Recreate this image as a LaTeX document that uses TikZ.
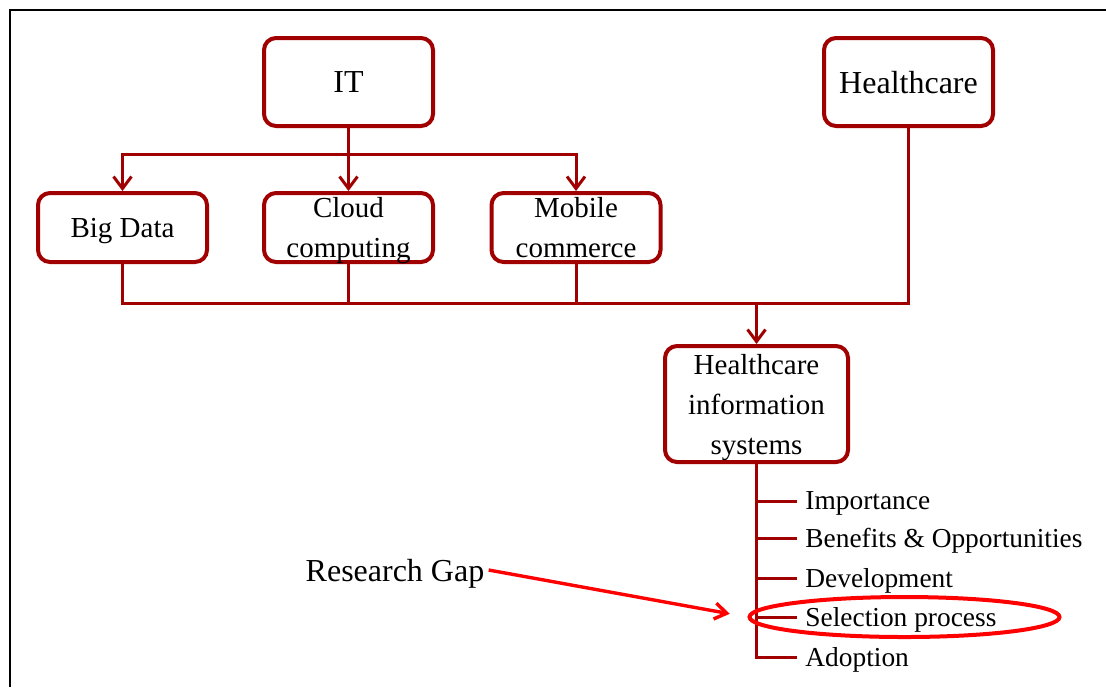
\documentclass[tikz,border=0pt]{standalone}
\usepackage{fontspec}
\setmainfont{Liberation Serif}
\usetikzlibrary{arrows.meta,shapes.geometric}
\definecolor{boxred}{RGB}{160,0,0}

\tikzset{
  box/.style={draw=boxred, line width=2pt, rounded corners=6pt, align=center,
    minimum width=84.5pt, minimum height=34.5pt, inner sep=2pt, text depth=0pt,
    font=\fontsize{14.5}{20}\selectfont},
  topbox/.style={box, minimum height=44pt, font=\fontsize{16}{19}\selectfont},
  link/.style={draw=boxred, line width=1.5pt},
  arr/.style={link, -{Straight Barb[length=6pt,width=9pt]}},
  item/.style={anchor=west, inner xsep=4pt, inner ysep=2pt, text depth=0pt,
    font=\fontsize{13.7}{16}\selectfont},
}

\begin{document}
\begin{tikzpicture}[x=0.5pt, y=-0.5pt]
  \useasboundingbox (0,0) rectangle (1106,687);
  \draw[line width=1.2pt] (10,687) -- (10,10) -- (1106,10); % frame

  \node[topbox] (it) at (348.5,82) {IT};
  \node[topbox] (health) at (908.5,82) {Healthcare};
  \node[box] (bigdata) at (122.5,227.5) {Big Data};
  \node[box] (cloud) at (348.5,227.5) {Cloud\\computing};
  \node[box] (mobile) at (576,227.5) {Mobile\\commerce};
  \node[box, minimum width=91.5pt, minimum height=58pt] (his) at (756.5,404)
    {Healthcare\\information\\systems};

  \coordinate (split) at (348.5,154);
  \coordinate (bus) at (756.5,303);

  % IT branches
  \draw[arr] (it.south) -- (cloud.north);
  \draw[arr] (split) -| (bigdata.north);
  \draw[arr] (split) -| (mobile.north);

  % merge into HIS
  \foreach \n in {bigdata,cloud,mobile,health} \draw[link] (\n.south) |- (bus);
  \draw[arr] (bus) -- (his.north);

  % topics
  \node[item] (imp) at (797,501) {Importance};
  \node[item] (ben) at (797,538) {Benefits \& Opportunities};
  \node[item] (dev) at (797,578) {Development};
  \node[item] (sel) at (797,617) {Selection process};
  \node[item] (adop) at (797,657) {Adoption};
  \draw[link] (his.south) |- (adop.west);
  \foreach \n in {imp,ben,dev,sel} \draw[link] (his.south |- \n.west) -- (\n.west);

  % research gap
  \node[ellipse, draw=red, line width=2pt, minimum width=155pt, minimum height=20pt,
    inner sep=0pt] (ring) at (904.5,617) {};
  \node[inner sep=2pt, text depth=0pt, font=\fontsize{16}{19}\selectfont] (gap) at (395,570) {Research Gap};
  \draw[red, line width=1.7pt, -{Straight Barb[length=6pt,width=8pt]}, shorten >=9pt]
    (gap.east) -- (ring.west);
\end{tikzpicture}
\end{document}
